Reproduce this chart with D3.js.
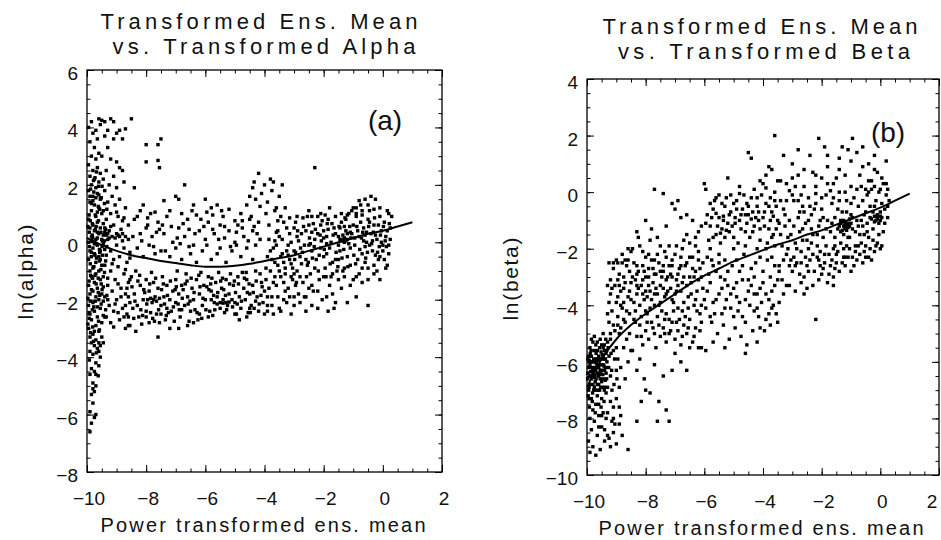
<!DOCTYPE html>
<html><head><meta charset="utf-8">
<script src="https://cdn.jsdelivr.net/npm/d3@7"></script>
<style>
body{margin:0;background:#fff}
svg{display:block}
text{font-family:"Liberation Sans",Arial,sans-serif;fill:#111}
</style>
</head><body>
<svg id="chart" width="941" height="540"></svg>
<script>
// ---------- tick labels ----------
const xTicks = [-10, -8, -6, -4, -2, 0, 2];
const alphaTicks = [-8, -6, -4, -2, 0, 2, 4, 6];
const betaTicks = [-10, -8, -6, -4, -2, 0, 2, 4];

// ---------- fitted curves ----------
const fitX = [-10,-9.5,-9,-8.5,-8,-7.5,-7,-6.5,-6,-5.5,-5,-4.5,-4,-3.5,-3,-2.5,-2,-1.5,-1,-0.5,0,0.5,1];
const alphaFitY = [0.15,-0.1,-0.3,-0.45,-0.55,-0.65,-0.72,-0.8,-0.85,-0.85,-0.82,-0.75,-0.65,-0.55,-0.45,-0.3,-0.15,0.0,0.15,0.3,0.4,0.55,0.7];
const betaFitY = [-6.9,-5.9,-5.2,-4.7,-4.3,-3.95,-3.6,-3.25,-2.95,-2.7,-2.45,-2.25,-2.05,-1.85,-1.7,-1.5,-1.35,-1.15,-0.95,-0.75,-0.55,-0.3,-0.05];

// ---------- scatter: (a) transformed mean vs ln(alpha) ----------
const alphaPoints = [
[-9.9,-6.6],[-9.85,-6.3],[-9.75,-6.1],[-9.7,-6.0],[-9.9,-5.9],[-9.8,-5.6],[-9.85,-5.3],[-9.75,-5.2],[-9.7,-5.0],[-9.8,-4.9],[-9.9,-4.6],[-9.75,-4.5],[-9.85,-4.4],[-9.6,-4.3],[-9.7,-4.2],[-9.55,-4.0],[-9.8,-3.9],[-9.9,-3.8],[-9.65,-3.7],[-9.75,-3.6],[-9.85,-3.5],[-9.6,-3.5],[-9.45,-3.5],[-9.7,-3.4],[-9.9,-3.3],[-9.8,-3.2],[-9.6,-3.1],[-9.95,-3.0],[-9.7,-2.9],[-9.5,-2.8],[-9.85,-2.7],[-9.65,-2.6],[-9.4,-2.6],[-9.9,-2.5],[-9.75,-2.4],[-9.55,-2.3],[-9.95,-2.2],[-9.8,-2.1],[-9.6,-2.0],[-9.7,-1.9],[-9.9,-1.8],[-9.5,-1.8],[-9.8,-1.7],[-9.65,-1.6],[-9.95,-1.5],[-9.75,-1.4],[-9.55,-1.3],[-9.85,-1.2],[-9.7,-1.1],[-9.9,-1.0],[-9.6,-1.0],[-9.8,-0.9],[-9.5,-0.8],[-9.7,-0.7],[-9.95,-0.6],[-9.85,-0.5],[-9.6,-0.5],[-9.75,-0.4],[-9.9,-0.3],[-9.55,-0.3],[-9.8,-0.2],[-9.65,-0.1],[-9.95,0.0],[-9.7,0.1],[-9.5,0.1],[-9.85,0.2],[-9.6,0.3],[-9.75,0.4],[-9.9,0.5],[-9.55,0.5],[-9.8,0.6],[-9.65,0.7],[-9.95,0.8],[-9.7,0.9],[-9.5,1.0],[-9.85,1.1],[-9.6,1.2],[-9.75,1.3],[-9.9,1.4],[-9.55,1.5],[-9.8,1.6],[-9.65,1.7],[-9.95,1.8],[-9.7,1.9],[-9.85,2.0],[-9.6,2.1],[-9.75,2.2],[-9.9,2.3],[-9.55,2.4],[-9.8,2.5],[-9.65,2.6],[-9.95,2.7],[-9.7,2.9],[-9.85,3.0],[-9.6,3.1],[-9.75,3.3],[-9.9,3.5],[-9.65,3.6],[-9.8,3.8],[-9.7,3.9],[-9.95,4.0],[-9.55,4.1],[-9.85,4.2],[-9.6,4.3],[-9.5,4.25],
[-9.92,-2.65],[-9.82,-2.35],[-9.72,-2.05],[-9.62,-1.75],[-9.52,-1.45],[-9.88,-1.15],[-9.78,-0.85],[-9.68,-0.55],[-9.58,-0.25],[-9.48,0.05],[-9.92,0.35],[-9.82,0.65],[-9.72,0.95],[-9.62,1.25],[-9.52,1.55],[-9.88,1.85],[-9.78,2.15],[-9.68,2.45],[-9.58,-0.65],[-9.48,-0.45],[-9.92,-0.15],[-9.82,0.25],[-9.72,0.45],[-9.62,-1.25],[-9.52,-2.15],[-9.88,-3.15],[-9.78,-3.45],[-9.68,-3.85],[-9.58,-3.05],[-9.9,1.6],[-9.8,1.45],[-9.7,1.55],[-9.6,1.65],[-9.85,0.05],[-9.65,0.15],[-9.45,0.25],[-9.75,-0.05],[-9.55,-0.6],
[-9.4,4.2],[-9.2,4.3],[-9.1,4.2],[-9.3,3.9],[-8.9,3.9],[-9.0,3.8],[-8.7,3.95],[-9.4,3.7],[-9.1,3.6],[-8.8,3.6],[-9.3,3.3],[-9.5,3.0],[-9.2,2.9],[-9.0,2.8],[-8.9,2.6],[-8.8,2.5],[-9.35,2.5],[-9.1,2.3],[-9.45,2.2],[-9.25,2.0],[-8.75,2.1],[-9.0,1.9],[-9.4,1.8],[-9.15,1.6],[-8.9,1.5],[-9.3,1.4],[-9.05,1.3],[-8.7,1.2],[-9.45,1.1],[-9.2,1.0],[-8.95,0.9],[-9.35,0.8],[-8.8,0.75],[-9.1,0.6],[-9.4,0.5],[-8.85,0.45],[-9.25,0.4],[-9.0,0.3],[-8.9,0.2],[-9.05,0.15],[-8.95,0.25],[-8.8,0.3],[-9.15,0.2],[-8.7,0.2],[-9.3,0.1],[-8.6,0.1],[-9.45,-0.05],[-9.0,-0.1],[-8.75,-0.2],[-9.2,-0.3],[-8.55,-0.35],[-9.35,-0.45],[-8.9,-0.5],[-9.1,-0.6],[-8.65,-0.7],[-9.4,-0.8],[-8.95,-0.85],[-9.2,-1.0],[-8.75,-1.1],[-9.45,-1.2],[-9.05,-1.3],[-8.6,-1.4],[-9.3,-1.5],[-8.85,-1.6],[-9.15,-1.7],[-8.7,-1.8],[-9.4,-1.9],[-9.0,-2.0],[-8.55,-2.1],[-9.25,-2.2],[-8.8,-2.3],[-9.1,-2.4],[-8.65,-2.5],[-9.35,-2.6],[-8.9,-2.7],[-9.2,-2.8],[-8.6,-2.9],[-9.45,-2.55],[-9.05,-2.15],[-8.85,-1.9],[-9.3,-1.25],[-8.95,-1.45],[-8.7,-0.95],[-9.15,-0.75],[-8.55,-0.55],[-9.4,-0.25],[-8.8,0.05],[-9.2,0.55],[-8.6,0.6],[-9.0,1.05],[-8.75,0.85],[-9.3,-2.0],[-8.95,-2.45],[-9.1,-2.95],[-8.75,-2.6],
[-8.5,4.3],[-8.0,3.4],[-7.6,3.4],[-7.5,3.6],[-7.6,2.85],[-7.55,2.6],[-8.0,2.8],[-8.4,1.9],[-6.7,2.0],[-8.1,1.3],[-7.4,1.45],[-7.0,1.6],[-6.0,1.5],[-5.6,1.3],[-6.9,1.5],[-7.85,1.0],[-8.3,0.9],[-5.8,1.2],[-6.4,1.3],[-5.2,1.15],[-4.6,1.3],
[-8.4,0.8],[-8.2,0.3],[-8.0,0.5],[-7.8,0.2],[-7.6,0.7],[-7.4,0.3],[-7.3,0.9],[-7.1,0.0],[-6.9,0.5],[-6.7,0.2],[-6.6,0.8],[-6.4,-0.1],[-6.2,0.4],[-6.0,0.1],[-5.9,0.7],[-5.7,0.3],[-5.5,-0.2],[-5.4,0.9],[-5.2,0.4],[-5.0,0.0],[-4.9,0.6],[-4.7,0.2],[-4.5,0.8],[-4.3,-0.1],
[-8.3,-0.2],[-8.1,-0.5],[-7.9,-0.1],[-7.7,-0.4],[-7.5,-0.3],[-7.2,-0.5],[-7.0,-0.2],[-6.8,-0.6],[-6.5,-0.4],[-6.3,-0.7],[-6.1,-0.3],[-5.8,-0.6],[-5.6,-0.4],[-5.3,-0.7],[-5.1,-0.3],[-4.8,-0.5],[-4.6,-0.2],[-4.4,-0.6],
[-8.2,1.1],[-7.7,1.05],[-7.2,1.1],[-6.8,1.0],[-6.3,0.95],[-5.5,0.6],[-5.0,0.75],[-4.8,1.0],[-7.95,0.85],[-6.05,0.55],[-5.75,0.95],[-6.55,0.45],[-7.45,0.6],[-8.45,0.2],[-5.35,0.15],[-4.95,-0.1],[-6.85,-0.05],[-7.65,0.35],[-4.4,0.4],[-4.2,0.7],
[-8.5,-1.2],[-8.4,-1.8],[-8.3,-2.2],[-8.25,-2.6],[-8.2,-1.5],[-8.1,-2.0],[-8.0,-1.3],[-8.0,-2.4],[-7.9,-1.7],[-7.9,-2.8],[-7.8,-2.1],[-7.75,-1.4],[-7.7,-1.9],[-7.65,-2.5],[-7.6,-1.6],[-7.5,-2.2],[-7.45,-1.2],[-7.4,-1.9],[-7.35,-2.7],[-7.3,-1.5],[-7.2,-2.0],[-7.15,-2.4],[-7.1,-1.7],[-7.0,-1.3],[-7.0,-2.1],[-6.9,-1.8],[-6.85,-2.6],[-6.8,-1.5],[-6.7,-2.2],[-6.65,-1.1],[-6.6,-1.9],[-6.5,-2.4],[-6.45,-1.6],[-6.4,-2.0],[-6.3,-1.3],[-6.25,-2.7],[-6.2,-1.8],[-6.1,-2.2],[-6.05,-1.5],[-6.0,-2.0],[-5.9,-1.2],[-5.85,-2.4],[-5.8,-1.7],[-5.7,-2.1],[-5.65,-1.4],[-5.6,-1.9],[-5.5,-2.3],[-5.45,-1.6],[-5.4,-2.0],[-5.3,-1.3],[-5.25,-2.2],[-5.2,-1.8],[-5.1,-2.0],[-5.05,-1.5],[-5.0,-2.1],[-4.9,-1.2],[-4.85,-1.9],[-4.8,-2.3],[-4.7,-1.6],[-4.65,-2.0],[-4.6,-1.3],[-4.5,-1.8],[-4.45,-2.2],[-4.4,-1.5],[-4.3,-1.0],[-4.25,-1.9],[-4.2,-2.4],[-4.1,-1.4],[-4.05,-2.1],[-4.0,-1.7],
[-8.55,-2.9],[-8.45,-2.3],[-8.35,-1.0],[-8.15,-2.85],[-8.05,-1.75],[-7.85,-2.45],[-7.55,-2.8],[-7.25,-2.45],[-7.05,-2.75],[-6.95,-1.0],[-6.75,-1.65],[-6.55,-2.75],[-6.35,-2.35],[-6.15,-1.05],[-5.95,-1.55],[-5.75,-2.55],[-5.55,-1.05],[-5.35,-2.45],[-5.15,-1.1],[-4.95,-2.5],[-4.75,-1.05],[-4.55,-2.45],[-4.35,-2.3],[-4.15,-1.1],
[-8.35,-3.1],[-7.6,-3.3],[-7.2,-3.0],[-6.6,-2.9],[-8.7,-3.0],[-8.6,-2.6],[-8.7,-2.2],[-8.65,-1.6],[-7.95,-2.0],[-7.85,-1.95],[-7.75,-2.0],[-7.65,-2.05],[-7.55,-1.95],[-5.6,-2.15],[-5.5,-2.1],[-5.4,-2.12],[-5.3,-2.1],[-5.2,-2.08],[-4.3,-2.05],[-4.6,-2.6],[-4.0,-2.5],[-5.8,-2.0],[-6.8,-2.35],[-7.3,-2.3],[-6.2,-2.5],[-4.85,-2.7],[-3.9,-2.4],
[-4.5,1.6],[-4.4,1.9],[-4.3,1.5],[-4.2,2.4],[-4.1,1.7],[-4.0,2.0],[-3.9,1.4],[-3.8,2.2],[-3.75,1.8],[-3.7,2.1],[-3.6,1.2],[-3.5,1.6],[-3.4,2.0],[-3.65,1.1],[-3.95,1.0],[-4.45,0.9],[-3.85,0.6],[-3.55,0.4],[-3.3,1.2],[-4.15,1.25],[-2.3,2.6],[-4.35,2.1],
[-3.9,-0.5],[-3.8,-1.0],[-3.7,-0.2],[-3.6,-1.5],[-3.55,-0.8],[-3.5,0.2],[-3.45,-1.2],[-3.4,-0.4],[-3.35,-2.0],[-3.3,-0.9],[-3.25,0.5],[-3.2,-1.6],[-3.15,-0.6],[-3.1,0.0],[-3.05,-1.3],[-3.0,-2.2],[-3.0,-0.3],[-2.95,0.7],[-2.9,-1.0],[-2.85,-1.8],[-2.8,-0.5],[-2.75,0.3],[-2.7,-1.4],[-2.65,-0.1],[-2.6,-2.4],[-2.55,-0.8],[-2.5,0.6],[-2.45,-1.1],[-2.4,-0.3],[-2.35,-1.7],[-2.3,0.1],[-2.25,-0.6],[-2.2,0.9],[-2.15,-1.3],[-2.1,-0.2],[-2.05,-2.0],[-2.0,0.4],[-1.95,-0.9],[-1.9,-0.4],[-1.85,0.8],[-1.8,-1.5],[-1.75,0.0],[-1.7,-0.7],[-1.65,0.5],[-1.6,-2.1],[-1.55,-1.0],
[-3.85,0.1],[-3.75,-1.9],[-3.65,-0.7],[-3.5,-2.3],[-3.35,0.7],[-3.2,-0.1],[-3.1,-2.5],[-2.9,0.2],[-2.8,-1.2],[-2.7,0.85],[-2.6,-0.6],[-2.5,-1.6],[-2.4,0.35],[-2.3,-0.9],[-2.2,-2.3],[-2.1,0.6],[-2.0,-1.2],[-1.9,0.2],[-1.8,-0.2],[-1.7,-1.8],[-1.6,0.3],[-1.5,-0.6],
[-3.95,-1.3],[-3.6,0.35],[-3.3,-1.1],[-3.0,0.5],[-2.75,-0.75],[-2.45,-0.05],[-2.15,-0.45],[-1.95,0.95],[-1.75,-1.2],[-2.55,0.9],[-2.05,0.75],[-3.15,0.85],[-2.35,0.65],[-1.85,0.45],[-2.65,-1.9],[-3.45,0.9],[-2.0,-0.5],[-2.5,-0.1],[-2.85,0.05],[-3.1,-0.75],[-1.9,-1.9],[-2.2,-1.7],[-1.65,-2.3],[-3.9,-2.2],[-3.7,-2.5],[-3.0,-1.9],[-2.4,-2.2],[-1.85,-2.4],[-2.6,0.4],[-2.95,-0.35],[-3.55,0.75],
[-1.5,0.2],[-1.45,-0.3],[-1.4,0.7],[-1.35,-1.0],[-1.3,0.0],[-1.25,0.4],[-1.2,-0.5],[-1.15,1.0],[-1.1,-0.2],[-1.05,0.3],[-1.0,-1.3],[-1.0,0.6],[-0.95,-0.1],[-0.9,0.9],[-0.85,-0.6],[-0.8,0.2],[-0.75,1.3],[-0.7,-0.4],[-0.65,0.5],[-0.6,1.5],[-0.55,0.0],[-0.5,-0.9],[-0.5,0.8],[-0.45,1.1],[-0.4,0.3],[-0.35,-0.3],[-0.3,0.6],[-0.25,1.5],[-0.2,0.1],[-0.15,-0.6],[-0.1,0.9],[-0.05,0.4],[0.0,-0.3],[0.05,0.7],[0.1,0.2],[0.15,1.1],[0.2,-0.1],[0.25,0.5],[0.3,0.9],[0.1,-0.9],[-0.2,-1.0],[0.0,-0.1],
[-1.4,-1.6],[-1.2,-2.1],[-0.9,-1.9],[-0.7,-1.4],[-0.5,-2.2],[-1.3,-1.2],[-1.1,-0.8],[-0.8,-1.1],[-0.6,-0.7],[-0.3,-0.8],[-0.1,-0.5],[0.05,-0.6],[0.2,-0.4],[-1.45,0.5],[-1.25,0.8],[-1.05,1.1],[-0.85,0.4],[-0.65,0.05],[-0.45,-0.1],[-0.25,0.25],[-0.05,0.0],[-1.35,0.25],[-1.15,-0.05],[-0.95,0.15],[-0.75,0.7],[-0.55,0.35],[-0.35,0.05],[-0.15,0.6],[0.15,0.4],[0.25,0.1],[-1.0,1.2],[-0.8,1.45],[-0.4,1.6],[-0.9,1.0],[-1.2,0.3],[-1.5,-0.1],[-1.3,0.55],[-1.1,0.35],[-0.6,0.25],[-0.7,0.95]
];
// denser parts of cloud (a)
const alphaPointsDense = [
[-9.97,-2.85],[-9.93,-2.45],[-9.89,-2.05],[-9.85,-1.65],[-9.81,-1.25],[-9.77,-0.85],[-9.73,-0.45],[-9.69,-0.05],[-9.65,0.35],[-9.61,0.75],[-9.57,1.15],[-9.53,1.55],[-9.49,1.95],[-9.45,-1.55],[-9.41,-1.05],[-9.37,-0.65],[-9.33,-0.15],[-9.97,0.55],[-9.93,0.95],[-9.89,-0.75],[-9.85,-0.35],[-9.81,0.15],[-9.77,1.75],[-9.73,2.25],[-9.69,-1.45],[-9.65,-2.25],[-9.61,-2.75],[-9.57,-1.85],[-9.53,-0.95],[-9.49,-0.15],[-9.45,0.65],[-9.41,1.35],[-9.37,-2.35],[-9.33,-1.85],[-9.97,-1.95],[-9.93,-1.35],[-9.89,0.75],[-9.85,1.35],[-9.81,-2.95],[-9.77,-2.25],[-9.73,-1.15],[-9.69,0.55],[-9.65,1.05],[-9.61,1.95],[-9.57,-0.35],[-9.53,0.35],[-9.49,-1.65],[-9.45,-2.05],[-9.41,0.05],[-9.37,0.45],[-9.33,1.15],[-9.3,0.3],[-9.35,0.25],[-9.4,0.35],[-9.25,0.15],[-9.5,-3.3],[-9.6,-3.8],[-9.7,-4.6],[-9.8,-5.1],[-9.75,-3.1],[-9.92,-4.1],[-9.62,-4.65],[-9.55,-3.6],
[-8.48,-1.55],[-8.38,-2.05],[-8.28,-1.35],[-8.18,-2.35],[-8.08,-1.65],[-7.98,-2.15],[-7.88,-1.45],[-7.78,-2.65],[-7.68,-1.25],[-7.58,-2.35],[-7.48,-1.65],[-7.38,-2.15],[-7.28,-1.85],[-7.18,-1.35],[-7.08,-2.25],[-6.98,-1.55],[-6.88,-2.35],[-6.78,-1.95],[-6.68,-1.45],[-6.58,-2.15],[-6.48,-1.25],[-6.38,-1.75],[-6.28,-2.45],[-6.18,-1.55],[-6.08,-1.95],[-5.98,-2.35],[-5.88,-1.65],[-5.78,-1.25],[-5.68,-2.35],[-5.58,-1.75],[-5.48,-1.35],[-5.38,-1.65],[-5.28,-2.35],[-5.18,-1.45],[-5.08,-2.25],[-4.98,-1.75],[-4.88,-1.45],[-4.78,-2.05],[-4.68,-1.25],[-4.58,-1.75],[-4.48,-2.45],[-4.38,-1.75],[-4.28,-1.35],[-4.18,-2.15],[-4.08,-1.55],[-8.42,-2.65],[-8.12,-2.55],[-7.72,-2.75],[-7.32,-2.55],[-6.92,-2.15],[-6.52,-2.05],[-6.12,-2.65],[-5.72,-1.85],[-5.32,-1.85],[-4.92,-2.15],[-4.52,-1.45],[-4.12,-1.85],[-8.22,-1.15],[-7.82,-1.05],[-7.42,-1.45],[-7.02,-1.65],[-6.62,-1.35],[-6.22,-1.15],[-5.82,-1.45],[-5.42,-1.25],[-5.02,-1.35],[-4.62,-1.05],[-8.0,-2.6],[-7.5,-2.5],[-6.9,-3.0],[-6.4,-2.8],[-5.9,-2.6],[-5.0,-2.5],[-4.5,-2.3],[-8.6,-1.9],[-8.55,-1.3],
[-2.98,-0.6],[-2.88,0.4],[-2.78,-0.2],[-2.68,0.55],[-2.58,-1.2],[-2.48,0.15],[-2.38,-0.55],[-2.28,0.45],[-2.18,-1.0],[-2.08,0.05],[-1.98,-0.25],[-1.88,0.65],[-1.78,-0.75],[-1.68,0.25],[-1.58,-0.35],[-1.48,0.55],[-1.38,-0.55],[-1.28,0.85],[-1.18,-0.85],[-1.08,0.15],[-0.98,-0.45],[-0.88,0.55],[-0.78,-0.25],[-0.68,0.35],[-0.58,-0.55],[-0.48,0.55],[-0.38,-0.05],[-0.28,0.85],[-0.18,-0.35],[-0.08,0.25],[0.02,0.55],[0.12,-0.15],[0.22,0.65],[-2.92,-1.4],[-2.72,-0.35],[-2.52,-0.7],[-2.32,-0.15],[-2.12,0.25],[-1.92,-1.2],[-1.72,0.65],[-1.52,-0.85],[-1.32,-0.25],[-1.12,0.55],[-0.92,-0.75],[-0.72,0.15],[-0.52,-0.35],[-0.32,0.35],[-0.12,-0.15],[0.08,0.05],[-1.6,0.9],[-1.4,1.0],[-1.2,0.95],[-0.9,1.2],[-0.7,1.1],[-0.5,1.3],[-0.3,1.15],[-0.1,1.2],[0.2,1.0],[-1.7,-1.1],[-1.5,-1.3],[-1.3,-0.9],[-1.1,-1.5],[-0.9,-1.2],[-0.7,-0.9],[-0.5,-1.3],[-0.3,-1.1],[-0.1,-1.3],[0.15,-0.8],[-1.45,0.1],[-1.4,0.05],[-1.35,0.1],[-1.3,0.15],[-1.2,0.1],[-1.25,0.05],[-2.9,0.9],[-2.5,1.1],[-2.1,1.0],[-1.8,1.2],[-1.9,-0.05],[-2.0,0.15],[-2.4,0.9],[-2.2,0.3],[-1.6,-0.6],[-0.6,-0.15],[-0.45,0.7],[-0.25,-0.45],
[-8.15,0.05],[-7.95,0.6],[-7.75,-0.15],[-7.55,0.45],[-7.35,-0.3],[-7.15,0.55],[-6.95,0.15],[-6.75,0.65],[-6.55,-0.15],[-6.35,0.3],[-6.15,0.8],[-5.95,-0.1],[-5.75,0.45],[-5.55,0.1],[-5.35,0.55],[-5.15,-0.15],[-4.95,0.35],[-4.75,0.75],[-4.55,0.05],[-4.35,0.55],[-4.15,0.1],[-6.45,1.1],[-5.95,1.05],[-5.45,1.1],[-4.75,0.5],[-4.25,0.3],
[-3.95,-0.9],[-3.85,-1.6],[-3.75,-0.6],[-3.65,-1.2],[-3.55,-1.9],[-3.45,-0.5],[-3.35,-1.4],[-3.25,-0.3],[-3.15,-1.9],[-3.05,-0.9],[-3.9,-1.9],[-3.7,-1.4],[-3.5,-1.0],[-3.3,-1.7],[-3.1,-1.2],[-3.8,-0.3],[-3.6,-0.1],[-3.4,0.1],[-3.2,-0.45],[-3.0,-1.1],[-3.75,-2.2],[-3.45,-2.4],[-3.25,-2.1],[-3.65,0.05],[-3.35,-0.7],[-3.15,0.3],[-2.95,-1.5],[-2.8,-2.1],[-2.6,-1.9],[-2.4,-1.5]
];

// ---------- scatter: (b) transformed mean vs ln(beta) ----------
const betaPoints = [
[-9.95,-7.0],[-9.9,-6.5],[-9.85,-6.0],[-9.8,-6.8],[-9.75,-5.6],[-9.7,-6.3],[-9.65,-7.2],[-9.6,-5.8],[-9.55,-6.6],[-9.5,-5.4],[-9.45,-6.1],[-9.4,-6.9],[-9.35,-5.7],[-9.95,-6.2],[-9.9,-5.5],[-9.85,-7.3],[-9.8,-6.0],[-9.75,-6.9],[-9.7,-5.4],[-9.65,-6.4],[-9.6,-7.5],[-9.55,-5.9],[-9.5,-6.7],[-9.45,-5.5],[-9.4,-6.3],[-9.35,-7.1],[-9.9,-6.8],[-9.8,-5.3],[-9.7,-7.0],[-9.6,-6.2],[-9.5,-7.3],[-9.4,-5.9],[-9.95,-5.8],[-9.85,-6.6],[-9.75,-6.2],[-9.65,-5.6],[-9.55,-6.3],[-9.45,-6.9],[-9.35,-6.4],[-9.9,-6.1],[-9.8,-6.4],[-9.7,-5.9],[-9.6,-6.8],[-9.5,-6.1],[-9.4,-5.6],[-9.92,-7.6],[-9.82,-7.4],[-9.72,-7.8],[-9.62,-7.0],[-9.52,-7.6],[-9.42,-7.4],[-9.32,-6.0],[-9.85,-5.2],[-9.75,-5.1],[-9.65,-5.3],[-9.55,-5.2],[-9.45,-5.0],[-9.88,-6.35],[-9.78,-6.55],[-9.68,-6.05],[-9.58,-6.45],[-9.48,-5.75],[-9.38,-6.65],[-9.98,-6.6],[-9.92,-5.95],[-9.72,-6.7],[-9.62,-5.95],[-9.52,-5.65],[-9.42,-6.15],[-9.3,-5.3],[-9.25,-5.8],[-9.2,-6.5],[-9.15,-7.0],[-9.1,-5.6],[-9.3,-6.9],[-9.2,-7.4],[-9.1,-7.6],[-9.0,-7.3],[-8.9,-7.6],[-9.2,-5.2],[-9.0,-5.5],[-8.95,-5.9],[-8.85,-6.2],[-8.75,-5.5],[-8.7,-6.6],[-8.9,-6.9],[-8.6,-6.0],[-8.5,-5.6],[-9.0,-6.3],
[-9.95,-8.8],[-9.9,-9.2],[-9.85,-8.4],[-9.8,-9.0],[-9.75,-8.1],[-9.7,-9.3],[-9.65,-8.6],[-9.6,-7.9],[-9.5,-8.3],[-9.4,-8.8],[-9.3,-8.6],[-9.25,-8.7],[-9.2,-9.0],[-9.1,-8.5],[-9.0,-8.9],[-8.8,-8.6],[-8.6,-9.1],[-9.55,-9.1],[-9.35,-8.0],[-9.05,-8.2],[-9.15,-8.1],[-8.9,-8.2],[-8.85,-7.9],[-9.45,-7.8],[-8.3,-8.1],
[-9.25,-2.5],[-9.2,-3.1],[-9.2,-3.6],[-9.15,-4.2],[-9.1,-2.7],[-9.1,-4.7],[-9.05,-3.3],[-9.0,-2.4],[-9.0,-3.9],[-8.95,-4.4],[-8.9,-2.9],[-8.9,-5.0],[-8.85,-3.5],[-8.8,-2.2],[-8.8,-4.1],[-8.75,-3.0],[-8.7,-4.6],[-8.65,-2.6],[-8.6,-3.7],[-8.55,-4.3],[-8.5,-2.1],[-8.5,-3.2],[-9.25,-3.9],[-9.25,-4.6],[-9.2,-5.0],[-9.15,-3.4],[-9.05,-4.9],[-8.95,-3.7],[-8.85,-4.8],[-8.75,-3.9],[-8.65,-5.2],[-8.55,-2.8],[-9.3,-4.3],[-9.3,-3.3],[-9.1,-2.5],[-8.95,-2.5],[-8.8,-2.5],[-8.7,-2.4],[-8.6,-2.0],
[-8.3,-1.4],[-8.0,-1.0],[-7.8,-1.3],[-7.6,-1.6],[-7.3,-1.2],[-7.1,-0.4],[-7.0,-0.6],[-6.9,-0.3],[-6.8,-0.9],[-7.5,-1.9],[-8.2,-1.9],[-7.9,-2.2],[-7.7,0.1],[-7.4,-0.05],[-6.6,-0.8],[-6.4,-1.0],[-6.2,-1.4],[-6.0,0.3],[-5.95,0.1],[-6.3,-1.9],[-6.7,-1.7],[-7.2,-1.9],
[-8.4,-2.5],[-8.35,-3.1],[-8.3,-3.6],[-8.25,-2.8],[-8.2,-4.0],[-8.15,-3.3],[-8.1,-2.6],[-8.05,-3.8],[-8.0,-3.0],[-7.95,-4.3],[-7.9,-2.7],[-7.85,-3.5],[-7.8,-2.4],[-7.75,-3.2],[-7.7,-4.0],[-7.65,-2.9],[-7.6,-3.6],[-7.55,-2.5],[-7.5,-3.3],[-7.45,-4.2],[-7.4,-2.8],[-7.35,-3.7],[-7.3,-2.3],[-7.25,-3.0],[-7.2,-4.5],[-7.15,-3.4],[-7.1,-2.6],[-7.05,-3.9],[-7.0,-2.2],[-6.95,-3.1],[-6.9,-4.1],[-6.85,-2.7],[-6.8,-3.5],[-6.75,-2.0],[-6.7,-3.0],[-6.65,-4.4],[-6.6,-2.5],[-6.55,-3.7],[-6.5,-1.8],[-6.45,-3.2],[-6.4,-2.3],[-6.35,-4.0],[-6.3,-2.8],[-6.25,-3.5],[-6.2,-2.1],[-6.15,-4.3],[-6.1,-3.0],[-6.05,-2.5],[-6.0,-3.8],
[-8.4,-3.9],[-8.1,-3.1],[-7.9,-3.0],[-7.7,-2.9],[-7.5,-2.8],[-7.3,-3.1],[-7.1,-3.0],[-6.9,-2.9],[-8.3,-2.9],[-8.0,-3.5],[-7.8,-3.8],[-7.6,-2.2],[-7.4,-3.4],[-7.2,-2.6],[-7.0,-3.6],[-6.8,-2.3],[-6.6,-3.3],[-6.4,-2.7],[-6.2,-3.1],
[-8.4,-4.5],[-8.3,-5.1],[-8.2,-4.7],[-8.1,-5.4],[-8.0,-4.9],[-7.9,-5.2],[-7.8,-4.6],[-7.7,-5.0],[-7.6,-4.4],[-7.5,-5.1],[-7.4,-4.8],[-7.3,-5.3],[-7.2,-5.0],[-7.1,-4.6],[-7.0,-5.2],[-6.9,-4.9],[-6.8,-5.4],[-6.7,-4.7],[-6.6,-5.0],[-6.5,-4.5],[-6.4,-5.3],[-6.3,-4.8],[-6.2,-5.5],[-6.1,-4.6],[-8.45,-5.6],[-8.2,-5.9],[-7.65,-5.5],[-7.0,-5.7],[-6.5,-5.5],[-6.1,-5.5],[-8.0,-4.2],[-7.3,-4.3],[-6.75,-4.2],
[-8.3,-6.3],[-8.05,-6.6],[-7.85,-7.1],[-7.7,-6.1],[-7.55,-7.4],[-7.4,-6.5],[-7.3,-7.7],[-7.2,-8.1],[-7.6,-8.1],[-8.0,-7.0],[-7.1,-6.3],[-6.6,-6.3],[-6.8,-6.0],[-8.15,-7.4],
[-5.9,-0.8],[-5.8,-1.2],[-5.7,-0.6],[-5.6,-1.5],[-5.5,-0.9],[-5.4,-1.3],[-5.3,-0.5],[-5.2,-1.1],[-5.1,-0.7],[-5.0,-1.6],[-4.9,-0.3],[-4.8,-1.0],[-4.7,-0.6],[-4.6,-1.4],[-4.5,-0.8],[-4.4,-0.2],[-4.3,-1.2],[-4.2,-0.5],[-4.1,-1.7],[-4.0,-0.9],[-3.9,-0.4],[-3.8,-1.3],[-3.7,-0.7],[-3.6,0.0],[-3.5,-1.0],
[-5.85,-1.7],[-5.65,-0.3],[-5.45,-1.8],[-5.25,-0.2],[-5.05,-1.2],[-4.85,-1.8],[-4.65,-0.1],[-4.45,-1.6],[-4.25,-0.9],[-4.05,-0.1],[-3.85,-1.8],[-3.65,-1.5],[-5.6,-0.75],[-5.35,-0.85],[-5.15,-0.8],[-4.95,-0.9],[-4.75,-1.3],[-4.55,-0.4],[-4.35,-0.7],[-4.15,-1.0],[-3.95,-1.2],[-3.75,-0.2],[-3.55,-0.5],
[-5.2,0.5],[-4.8,0.2],[-4.5,1.4],[-4.4,1.2],[-4.1,0.4],[-3.9,0.6],[-3.7,0.8],[-3.6,2.0],[-5.5,-0.1],[-4.0,0.3],[-3.8,0.9],[-3.5,0.4],
[-5.9,-2.3],[-5.8,-3.2],[-5.7,-2.6],[-5.6,-3.8],[-5.5,-2.2],[-5.4,-3.4],[-5.3,-4.1],[-5.2,-2.8],[-5.1,-3.6],[-5.0,-4.4],[-4.9,-2.4],[-4.8,-3.9],[-4.7,-3.1],[-4.6,-4.6],[-4.5,-3.5],[-4.4,-2.7],[-4.3,-4.2],[-4.2,-3.6],[-4.1,-4.8],[-4.0,-3.2],[-3.9,-4.5],[-3.8,-3.8],[-3.7,-4.1],[-3.6,-3.3],[-3.5,-4.6],
[-5.95,-4.1],[-5.75,-4.6],[-5.55,-5.0],[-5.35,-4.7],[-5.15,-5.2],[-4.95,-4.8],[-4.75,-5.1],[-4.55,-5.4],[-4.35,-4.9],[-4.15,-4.4],[-3.95,-4.9],[-3.75,-4.7],[-3.55,-4.3],[-5.85,-2.9],[-5.45,-3.0],[-5.05,-2.6],[-4.65,-2.2],[-4.25,-2.5],[-3.85,-2.4],[-3.45,-2.8],[-5.65,-4.3],[-5.25,-3.8],[-4.85,-4.2],[-4.45,-4.0],[-4.05,-3.9],[-3.65,-4.0],[-5.7,-5.3],[-5.3,-5.5],[-4.6,-5.7],[-4.2,-5.3],[-5.95,-5.6],[-2.2,-4.5],
[-5.5,-2.5],[-5.0,-2.0],[-4.6,-1.9],[-4.2,-2.0],[-3.9,-2.0],[-3.6,-1.9],[-5.8,-2.0],[-4.9,-3.2],[-4.3,-3.0],[-3.75,-3.0],
[-3.4,-1.5],[-3.3,-0.6],[-3.2,-2.2],[-3.1,-1.0],[-3.0,-2.8],[-2.95,-0.3],[-2.9,-1.8],[-2.85,-2.5],[-2.8,-0.9],[-2.75,-1.4],[-2.7,-2.1],[-2.65,-0.5],[-2.6,-3.0],[-2.55,-1.1],[-2.5,-1.7],[-2.45,-0.2],[-2.4,-2.4],[-2.35,-0.8],[-2.3,-1.5],[-2.25,-2.8],[-2.2,-0.4],[-2.15,-1.9],[-2.1,-1.2],[-2.05,-2.6],[-2.0,-0.6],[-1.95,-1.6],[-1.9,-2.2],[-1.85,-0.1],[-1.8,-1.0],[-1.75,-2.9],[-1.7,-1.4],[-1.65,-0.4],[-1.6,-2.0],[-1.55,-0.9],[-1.5,-2.5],[-1.45,-1.3],[-1.4,0.0],[-1.35,-1.8],[-1.3,-0.7],[-1.25,-2.3],[-1.2,-1.1],[-1.15,-0.3],[-1.1,-1.6],[-1.05,-2.0],[-1.0,-0.8],[-0.95,-1.3],[-0.9,-0.2],[-0.85,-1.9],[-0.8,-1.0],[-0.75,-0.5],[-0.7,-1.5],[-0.65,0.2],[-0.6,-1.2],[-0.55,-2.1],[-0.5,-0.7],[-0.45,-0.1],[-0.4,-1.6],[-0.35,-0.9],[-0.3,0.1],[-0.25,-1.3],[-0.2,-0.5],[-0.15,-1.9],[-0.1,-0.8],[-0.05,0.0],[0.0,-1.0],[0.05,-0.4],[0.1,-1.4],[0.15,-0.6],[0.2,0.3],[0.25,-0.9],[0.3,-0.3],
[-3.45,-2.6],[-3.35,-3.1],[-3.25,-1.2],[-3.15,-2.0],[-3.05,-1.5],[-2.95,-2.3],[-2.75,-2.9],[-2.65,-1.7],[-2.45,-2.0],[-2.35,-1.3],[-2.15,-2.3],[-2.05,-1.0],[-1.95,-2.7],[-1.85,-1.9],[-1.65,-2.4],[-1.55,-1.6],[-1.45,-2.1],[-1.35,-1.0],[-1.25,-1.5],[-1.15,-1.9],[-1.05,-1.2],[-0.95,-2.3],[-0.85,-1.4],[-0.75,-1.9],[-0.65,-1.0],[-0.55,-1.5],[-0.45,-1.1],[-0.35,-2.0],[-0.25,-0.7],[-0.15,-1.0],[-0.05,-1.5],[0.05,-0.9],
[-3.4,0.4],[-3.2,0.3],[-3.0,1.0],[-2.8,0.6],[-2.6,0.2],[-2.4,1.3],[-2.3,0.7],[-2.1,1.9],[-2.0,0.5],[-1.8,0.9],[-1.6,0.3],[-1.4,1.2],[-1.3,1.6],[-1.2,0.6],[-1.1,1.5],[-1.0,0.2],[-0.8,1.4],[-0.7,0.6],[-0.6,0.9],[-0.4,0.4],[-0.2,1.3],[-0.1,0.7],[0.1,0.3],[0.25,0.1],[-0.95,1.9],[-3.3,1.3],[-2.9,0.2],[-1.5,0.5],[-0.5,0.1],[-2.7,-0.1],[-2.2,-0.05],[-1.7,0.05],[-0.3,0.4],[0.05,0.5],[-3.1,0.05],
[-3.3,-3.6],[-3.1,-3.3],[-2.9,-3.5],[-2.7,-3.2],[-2.5,-3.4],[-2.3,-3.3],[-2.1,-3.1],[-1.8,-3.2],[-1.6,-3.0],[-1.4,-2.8],[-1.2,-2.6],[-1.0,-2.8],[-0.8,-2.4],[-0.6,-2.5],[-0.4,-2.3],[-0.2,-2.1],[0.0,-2.0],[-3.45,-3.9],[-2.45,-2.8],[-1.55,-2.7],[-0.5,-2.3],[-1.2,-2.3],[-1.3,-1.35],[-1.25,-1.2],[-1.2,-1.3],[-1.15,-1.15],[-1.1,-1.25],[-0.2,-0.85],[-0.1,-0.95],[0.0,-0.7]
];
// denser parts of cloud (b)
const betaPointsDense = [
[-9.97,-6.4],[-9.93,-6.9],[-9.89,-5.7],[-9.85,-6.2],[-9.81,-7.1],[-9.77,-5.9],[-9.73,-6.5],[-9.69,-5.7],[-9.65,-6.8],[-9.61,-6.1],[-9.57,-7.0],[-9.53,-6.4],[-9.49,-5.9],[-9.45,-6.6],[-9.41,-5.4],[-9.37,-6.2],[-9.33,-5.6],[-9.97,-5.9],[-9.93,-7.3],[-9.89,-6.5],[-9.85,-5.8],[-9.81,-6.3],[-9.77,-7.0],[-9.73,-6.0],[-9.69,-6.6],[-9.65,-5.9],[-9.61,-6.5],[-9.57,-5.5],[-9.53,-6.9],[-9.49,-6.3],[-9.45,-5.8],[-9.41,-7.0],[-9.37,-5.9],[-9.33,-6.6],[-9.96,-7.2],[-9.86,-5.6],[-9.76,-6.45],[-9.66,-6.1],[-9.56,-6.1],[-9.46,-6.45],[-9.36,-5.2],[-9.26,-6.2],[-9.16,-6.3],[-9.06,-5.9],[-9.28,-5.5],[-9.18,-5.7],[-9.08,-6.8],[-8.98,-6.6],[-9.7,-7.5],[-9.5,-7.9],[-9.3,-7.8],[-9.1,-8.0],[-9.8,-7.7],[-9.6,-8.3],[-9.4,-8.4],[-9.9,-8.0],
[-8.95,-3.1],[-8.85,-4.0],[-8.75,-3.4],[-8.65,-4.2],[-8.55,-3.5],[-8.45,-3.0],[-8.35,-4.2],[-8.25,-3.4],[-8.15,-4.4],[-8.05,-2.8],[-7.95,-3.7],[-7.85,-4.1],[-7.75,-2.7],[-7.65,-3.4],[-7.55,-4.0],[-7.45,-3.0],[-7.35,-4.5],[-7.25,-3.5],[-7.15,-2.9],[-7.05,-4.2],[-6.95,-3.5],[-6.85,-4.5],[-6.75,-3.2],[-6.65,-2.6],[-6.55,-4.1],[-6.45,-3.6],[-6.35,-3.0],[-6.25,-4.2],[-6.15,-2.7],[-6.05,-3.4],[-8.9,-3.3],[-8.7,-3.2],[-8.5,-3.8],[-8.3,-3.3],[-8.1,-3.6],[-7.9,-3.3],[-7.7,-3.6],[-7.5,-3.9],[-7.3,-3.6],[-7.1,-3.8],[-6.9,-3.3],[-6.7,-3.9],[-6.5,-3.0],[-6.3,-3.8],[-6.1,-4.0],[-8.95,-4.7],[-8.75,-4.5],[-8.55,-5.0],[-8.35,-4.6],[-8.15,-5.1],[-7.95,-4.6],[-7.75,-4.8],[-7.55,-4.7],[-7.35,-5.0],[-7.15,-4.9],[-6.95,-4.6],[-6.75,-5.1],[-6.55,-4.8],[-6.35,-5.1],[-6.15,-4.9],[-8.6,-2.4],[-8.3,-2.6],[-8.0,-2.3],[-7.7,-2.4],[-7.4,-2.6],[-7.1,-2.4],[-6.8,-2.6],[-6.5,-2.3],[-6.2,-2.4],[-8.45,-2.0],[-8.1,-2.1],[-7.35,-2.1],[-6.95,-1.9],[-6.6,-1.5],[-6.3,-1.6],[-6.1,-1.2],[-8.25,-1.6],[-7.85,-1.7],
[-5.95,-1.1],[-5.75,-0.9],[-5.55,-1.2],[-5.35,-1.0],[-5.15,-1.4],[-4.95,-1.1],[-4.75,-0.8],[-4.55,-1.1],[-4.35,-1.4],[-4.15,-0.7],[-3.95,-0.7],[-3.75,-1.0],[-3.55,-1.3],[-5.7,-1.6],[-5.3,-1.6],[-4.9,-0.6],[-4.5,-0.5],[-4.1,-1.3],[-3.7,-1.6],[-5.8,-0.4],[-5.4,-0.4],[-5.0,-0.4],[-4.6,-0.8],[-4.2,-0.2],[-3.8,-0.5],[-5.6,-0.2],[-4.8,-0.05],[-4.3,0.1],[-3.9,0.15],[-3.6,-0.3],[-5.1,-0.1],[-4.4,-0.95],[-5.25,-1.35],[-3.65,-0.85],[-5.45,-1.45],
[-5.9,-3.5],[-5.7,-3.9],[-5.5,-3.6],[-5.3,-3.1],[-5.1,-4.1],[-4.9,-3.7],[-4.7,-4.4],[-4.5,-3.1],[-4.3,-3.6],[-4.1,-3.4],[-3.9,-3.6],[-3.7,-3.5],[-3.5,-3.1],[-5.8,-4.4],[-5.4,-4.3],[-5.0,-3.4],[-4.6,-3.8],[-4.2,-4.1],[-3.8,-4.3],[-5.6,-2.8],[-5.2,-3.3],[-4.8,-2.8],[-4.4,-3.3],[-4.0,-2.8],[-3.6,-2.6],[-5.3,-2.4],[-4.7,-2.6],[-4.1,-2.3],[-3.7,-2.3],[-5.75,-2.4],
[-3.45,-1.1],[-3.35,-1.9],[-3.25,-0.8],[-3.15,-1.6],[-3.05,-2.4],[-2.95,-1.2],[-2.85,-2.0],[-2.75,-0.7],[-2.65,-1.3],[-2.55,-2.3],[-2.45,-1.0],[-2.35,-1.8],[-2.25,-0.6],[-2.15,-1.5],[-2.05,-2.1],[-1.95,-0.9],[-1.85,-1.3],[-1.75,-2.2],[-1.65,-1.1],[-1.55,-1.9],[-1.45,-0.6],[-1.35,-1.4],[-1.25,-2.0],[-1.15,-0.7],[-1.05,-1.6],[-0.95,-0.9],[-0.85,-2.1],[-0.75,-1.2],[-0.65,-1.8],[-0.55,-0.8],[-0.45,-1.4],[-0.35,-0.5],[-0.25,-1.7],[-0.15,-0.3],[-0.05,-1.1],[0.05,-1.9],[0.15,-1.1],[0.25,-0.5],
[-3.3,-2.4],[-3.1,-2.6],[-2.9,-2.6],[-2.7,-2.5],[-2.5,-2.6],[-2.3,-2.2],[-2.1,-2.4],[-1.9,-2.5],[-1.7,-2.6],[-1.5,-2.2],[-1.3,-2.5],[-1.1,-2.3],[-0.9,-2.6],[-0.7,-2.2],[-0.5,-1.9],[-0.3,-2.4],[-0.1,-1.8],[-3.2,-0.3],[-3.0,-0.1],[-2.8,-0.3],[-2.6,-0.7],[-2.4,-0.5],[-2.2,0.2],[-2.0,-0.2],[-1.8,0.3],[-1.6,-0.2],[-1.4,-0.3],[-1.2,0.0],[-1.0,-0.4],[-0.8,0.1],[-0.6,-0.3],[-0.4,0.0],[-0.2,0.2],[0.0,0.1],[0.2,-0.1],[-1.4,-1.2],[-1.35,-1.1],[-1.3,-1.05],[-1.25,-1.0],[-1.2,-1.2],[-1.15,-1.35],[-1.1,-1.1],[-1.05,-0.95],[-1.0,-1.1],[-0.3,-0.95],[-0.2,-1.05],[-0.1,-0.85],[0.0,-0.85],[-3.4,-0.3],[-3.0,0.5],[-2.6,0.8],[-2.2,0.6],[-1.8,1.3],[-1.4,0.8],[-1.0,1.1],[-0.6,1.6],[-0.2,0.8],[0.2,1.1],[-2.8,1.5],[-1.9,1.6],[-0.4,1.0],[-1.6,-3.3],[-2.0,-2.9],[-2.6,-3.6],[-3.2,-3.3]
];

const svg = d3.select("#chart");

function drawPanel(cfg) {
  const g = svg.append("g");
  const x = d3.scaleLinear().domain([-10, 2]).range([cfg.left, cfg.right]);
  const y = d3.scaleLinear().domain(cfg.yDomain).range([cfg.bottom, cfg.top]);
  const W = cfg.right - cfg.left, H = cfg.bottom - cfg.top;

  // points
  g.append("g").selectAll("rect").data(cfg.points).join("rect")
    .attr("x", d => x(d[0]) - 1.7).attr("y", d => y(d[1]) - 1.7)
    .attr("width", 3.4).attr("height", 3.4).attr("fill", "#000");

  // fit line
  const line = d3.line().x(d => x(d[0])).y(d => y(d[1])).curve(d3.curveMonotoneX);
  g.append("path").datum(fitX.map((v, i) => [v, cfg.fitY[i]]))
    .attr("d", line).attr("fill", "none").attr("stroke", "#000").attr("stroke-width", 2);

  // axes (inward ticks, all four sides)
  const maj = 7, mnr = 3.5;
  const xMinor = d3.range(-10, 2.001, 0.5);
  const yMinor = d3.range(cfg.yDomain[0], cfg.yDomain[1] + 0.001, 0.5);
  const axisStyle = s => { s.select(".domain").remove(); s.selectAll("line").attr("stroke", "#000").attr("stroke-width", 1); s.selectAll("text").remove(); };
  g.append("g").attr("transform", `translate(0,${cfg.bottom})`).call(d3.axisBottom(x).tickValues(xTicks).tickSize(-maj)).call(axisStyle);
  g.append("g").attr("transform", `translate(0,${cfg.bottom})`).call(d3.axisBottom(x).tickValues(xMinor).tickSize(-mnr)).call(axisStyle);
  g.append("g").attr("transform", `translate(0,${cfg.top})`).call(d3.axisTop(x).tickValues(xTicks).tickSize(-maj)).call(axisStyle);
  g.append("g").attr("transform", `translate(0,${cfg.top})`).call(d3.axisTop(x).tickValues(xMinor).tickSize(-mnr)).call(axisStyle);
  g.append("g").attr("transform", `translate(${cfg.left},0)`).call(d3.axisLeft(y).tickValues(cfg.yTicks).tickSize(-maj)).call(axisStyle);
  g.append("g").attr("transform", `translate(${cfg.left},0)`).call(d3.axisLeft(y).tickValues(yMinor).tickSize(-mnr)).call(axisStyle);
  g.append("g").attr("transform", `translate(${cfg.right},0)`).call(d3.axisRight(y).tickValues(cfg.yTicks).tickSize(-maj)).call(axisStyle);
  g.append("g").attr("transform", `translate(${cfg.right},0)`).call(d3.axisRight(y).tickValues(yMinor).tickSize(-mnr)).call(axisStyle);

  g.append("rect").attr("x", cfg.left).attr("y", cfg.top).attr("width", W).attr("height", H)
    .attr("fill", "none").attr("stroke", "#000").attr("stroke-width", 1.3);

  const fmt = v => (v < 0 ? "\u2212" : "") + Math.abs(v);
  // tick labels
  g.append("g").selectAll("text").data(xTicks).join("text")
    .attr("x", d => Math.min(x(d) + 2, 932)).attr("y", cfg.bottom + 33)
    .attr("text-anchor", "middle").attr("font-size", 19).text(fmt);
  g.append("g").selectAll("text").data(cfg.yTicks).join("text")
    .attr("x", cfg.left - 9).attr("y", d => y(d) + 10)
    .attr("text-anchor", "end").attr("font-size", 19).text(fmt);

  // titles
  g.append("text").attr("x", cfg.t1x).attr("y", cfg.t1y).attr("text-anchor", "middle")
    .attr("font-size", 22).attr("textLength", cfg.t1w).attr("lengthAdjust", "spacing").text(cfg.title1);
  g.append("text").attr("x", cfg.t2x).attr("y", cfg.t1y + 25).attr("text-anchor", "middle")
    .attr("font-size", 22).attr("textLength", cfg.t2w).attr("lengthAdjust", "spacing").text(cfg.title2);
  g.append("text").attr("x", cfg.xtx).attr("y", cfg.bottom + 60).attr("text-anchor", "middle")
    .attr("font-size", 20).attr("textLength", 325).attr("lengthAdjust", "spacing").text("Power transformed ens. mean");
  g.append("text").attr("transform", `translate(${cfg.ytx},${cfg.yty}) rotate(-90)`).attr("text-anchor", "middle")
    .attr("font-size", 21).attr("textLength", cfg.ytw).attr("lengthAdjust", "spacing").text(cfg.ylabel);
  g.append("text").attr("x", cfg.tagx).attr("y", cfg.tagy).attr("text-anchor", "middle")
    .attr("font-size", 28).text(cfg.tag);
}

drawPanel({
  left: 87, right: 442, top: 70, bottom: 472, yDomain: [-8, 6], yTicks: alphaTicks,
  points: alphaPoints.concat(alphaPointsDense), fitY: alphaFitY,
  title1: "Transformed Ens. Mean", title2: "vs. Transformed Alpha",
  t1x: 259, t1y: 29, t1w: 317, t2x: 264, t2w: 303,
  xtx: 263, ylabel: "ln(alpha)", ytx: 33, yty: 272, ytw: 95,
  tag: "(a)", tagx: 385, tagy: 130
});
drawPanel({
  left: 587, right: 939, top: 79, bottom: 475, yDomain: [-10, 4], yTicks: betaTicks,
  points: betaPoints.concat(betaPointsDense), fitY: betaFitY,
  title1: "Transformed Ens. Mean", title2: "vs. Transformed Beta",
  t1x: 760, t1y: 34, t1w: 315, t2x: 764, t2w: 292,
  xtx: 761, ylabel: "ln(beta)", ytx: 518, yty: 279, ytw: 83,
  tag: "(b)", tagx: 888, tagy: 142
});
</script>
</body></html>
